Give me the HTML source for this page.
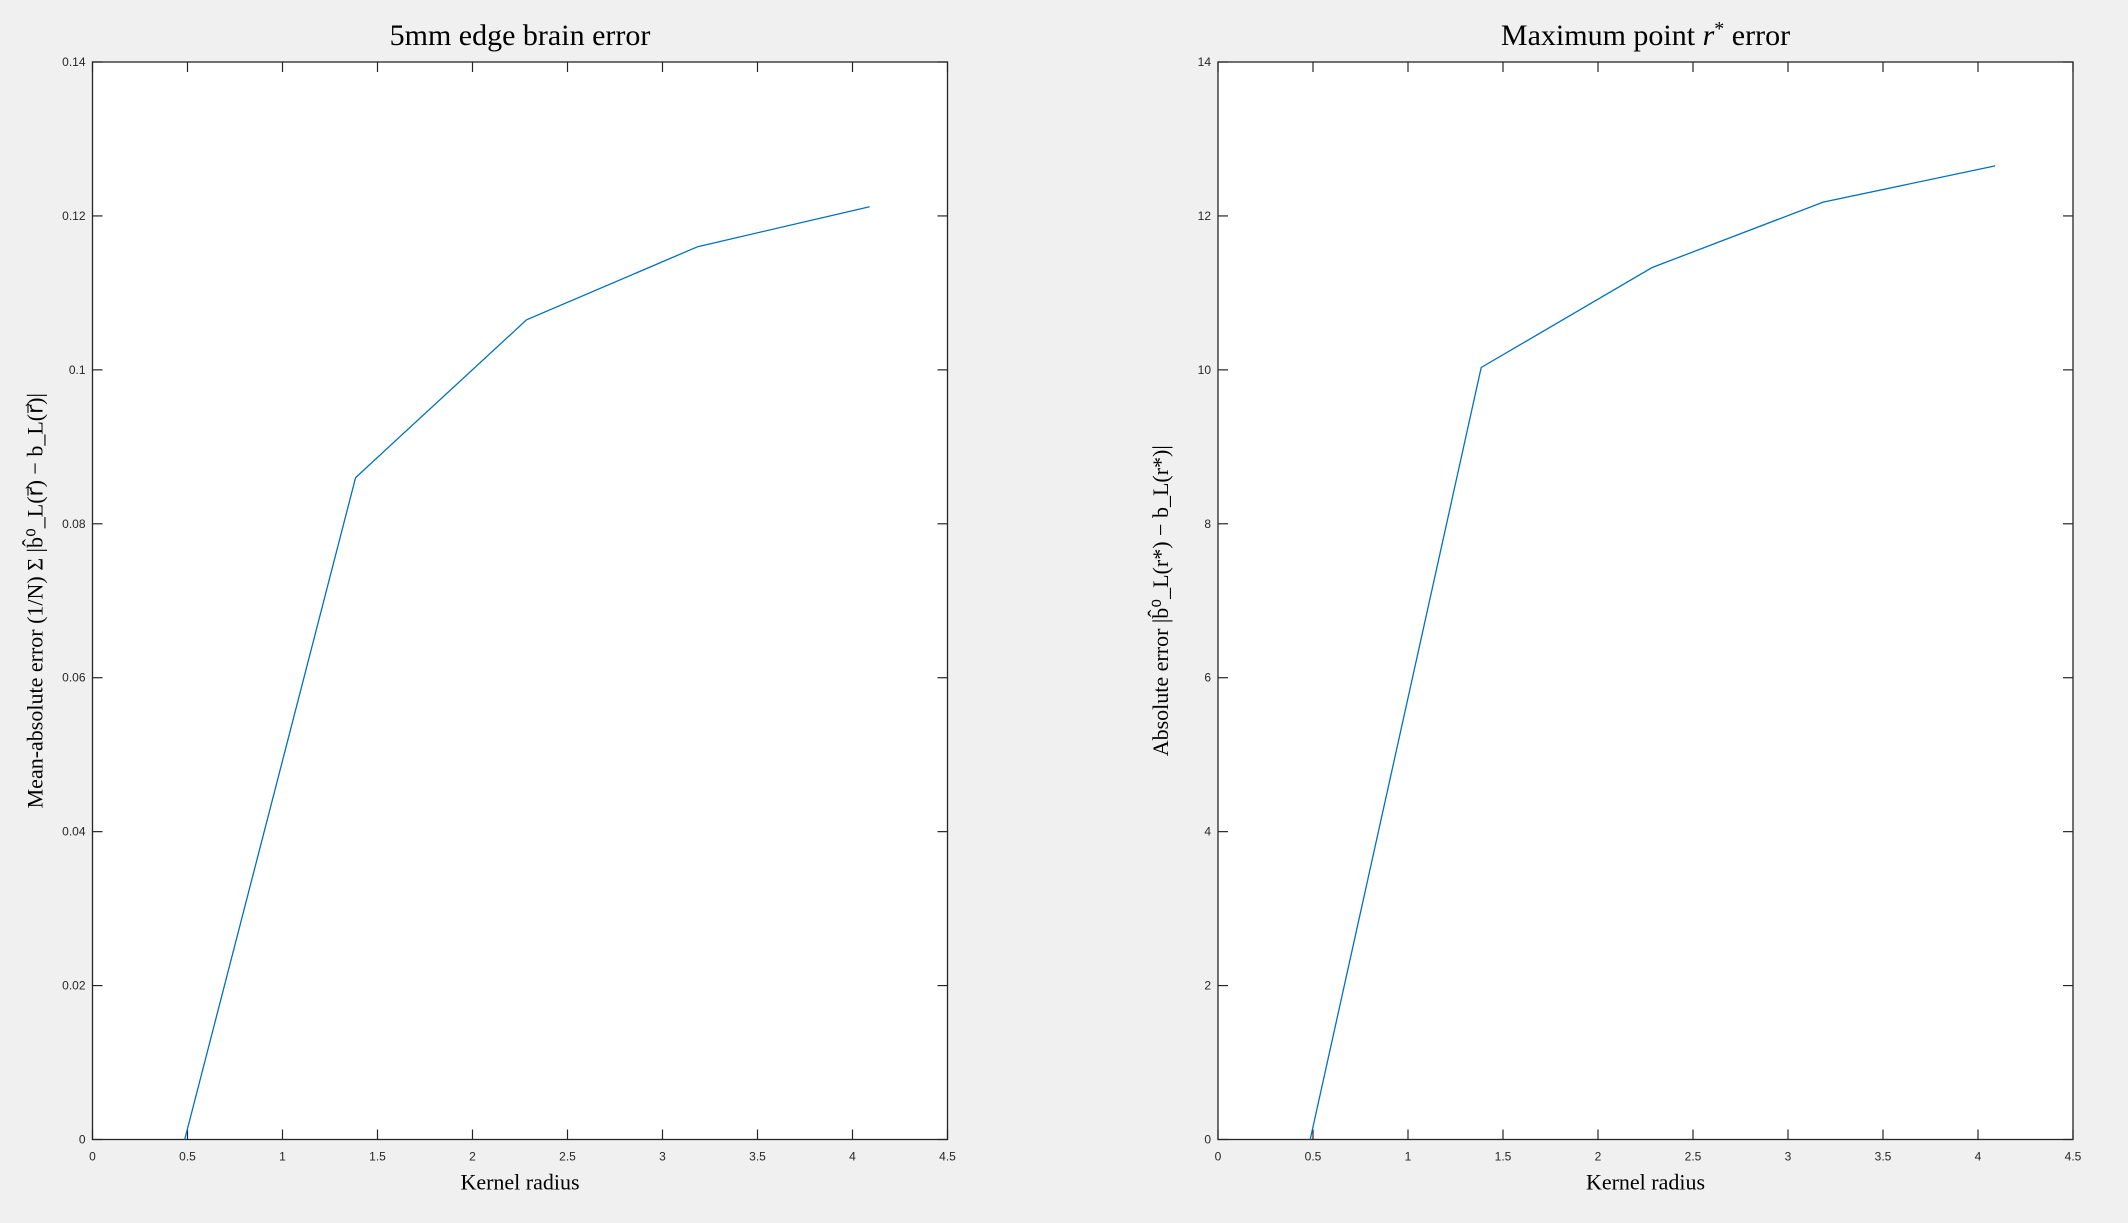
<!DOCTYPE html>
<html><head><meta charset="utf-8"><style>
html,body{margin:0;padding:0;background:#f0f0f0;}
svg{display:block;}
.tick{font-family:"Liberation Sans",sans-serif;font-size:12px;fill:#262626;}
.ser{font-family:"Liberation Serif",serif;fill:#000;}
</style></head><body>
<svg id="fig" width="2128" height="1223"></svg>
<script>
const xValues=[0.485,1.385,2.285,3.185,4.09];
const leftValues=[0,0.086,0.1065,0.116,0.1212];
const rightValues=[0,10.03,11.33,12.18,12.65];
const xTicks=[0,0.5,1,1.5,2,2.5,3,3.5,4,4.5];
const leftYTicks=[0,0.02,0.04,0.06,0.08,0.1,0.12,0.14];
const rightYTicks=[0,2,4,6,8,10,12,14];

const NS="http://www.w3.org/2000/svg";
const svg=document.getElementById('fig');
function el(tag,attrs,parent,text){const e=document.createElementNS(NS,tag);for(const k in attrs)e.setAttribute(k,attrs[k]);if(text!==undefined)e.textContent=text;(parent||svg).appendChild(e);return e;}

function drawPanel(name,x0,x1,y0,y1,xmax,ymax,yticks,vals,titleParts,ylabelParts){
  const g=el('g',{});
  
  
  const sx=v=>x0+(v/xmax)*(x1-x0);
  const sy=v=>y1-(v/ymax)*(y1-y0);
  const bg=el('rect',{x:x0,y:y0,width:x1-x0,height:y1-y0,fill:'#fff'},g);
  
  
  const box=el('rect',{x:x0,y:y0,width:x1-x0,height:y1-y0,fill:'none',stroke:'#262626','stroke-width':1.3},g);
  
  
  xTicks.forEach(t=>{
    const x=sx(t);
    el('line',{x1:x,x2:x,y1:y1,y2:y1-10,stroke:'#262626','stroke-width':1.2},g);
    el('line',{x1:x,x2:x,y1:y0,y2:y0+10,stroke:'#262626','stroke-width':1.2},g);
    const tl=el('text',{x:x,y:y1+21,'text-anchor':'middle',class:'tick'},g,String(t));
    
    
  });
  yticks.forEach(t=>{
    const y=sy(t);
    el('line',{x1:x0,x2:x0+10,y1:y,y2:y,stroke:'#262626','stroke-width':1.2},g);
    el('line',{x1:x1,x2:x1-10,y1:y,y2:y,stroke:'#262626','stroke-width':1.2},g);
    const tl=el('text',{x:x0-7,y:y+4,'text-anchor':'end',class:'tick'},g,String(t));
    
    
  });
  const pts=xValues.map((xv,i)=>sx(xv).toFixed(1)+','+sy(vals[i]).toFixed(1)).join(' ');
  const line=el('polyline',{points:pts,fill:'none',stroke:'#0072bd','stroke-width':1.3},g);
  
  
  const tt=el('text',{x:(x0+x1)/2,y:y0-17,'text-anchor':'middle',class:'ser','font-size':30},g);
  
  
  titleParts.forEach(p=>{
    const ts=el('tspan',p.a||{},tt,p.t);
  });
  const xl=el('text',{x:(x0+x1)/2,y:y1+50,'text-anchor':'middle',class:'ser','font-size':22,fill:'#262626'},g,'Kernel radius');
  
  
  const cy=(y0+y1)/2;
  const yl=el('text',{x:0,y:0,'text-anchor':'middle',class:'ser','font-size':22,transform:'translate('+(x0-50)+','+cy+') rotate(-90)'},g,ylabelParts);
  
  
}
drawPanel('left-chart',92.5,947.5,62,1139.5,4.5,0.14,leftYTicks,leftValues,[{t:'5mm edge brain error'}],'Mean-absolute error  (1/N) Σ |b̂⁰_L(r⃗) − b_L(r⃗)|');
drawPanel('right-chart',1218,2073,62,1139.5,4.5,14,rightYTicks,rightValues,[{t:'Maximum point '},{t:'r','a':{'font-style':'italic'}},{t:'*','a':{'font-size':20,dy:-10}},{t:' error','a':{dy:10}}],'Absolute error  |b̂⁰_L(r*) − b_L(r*)|');
</script>
</body></html>
